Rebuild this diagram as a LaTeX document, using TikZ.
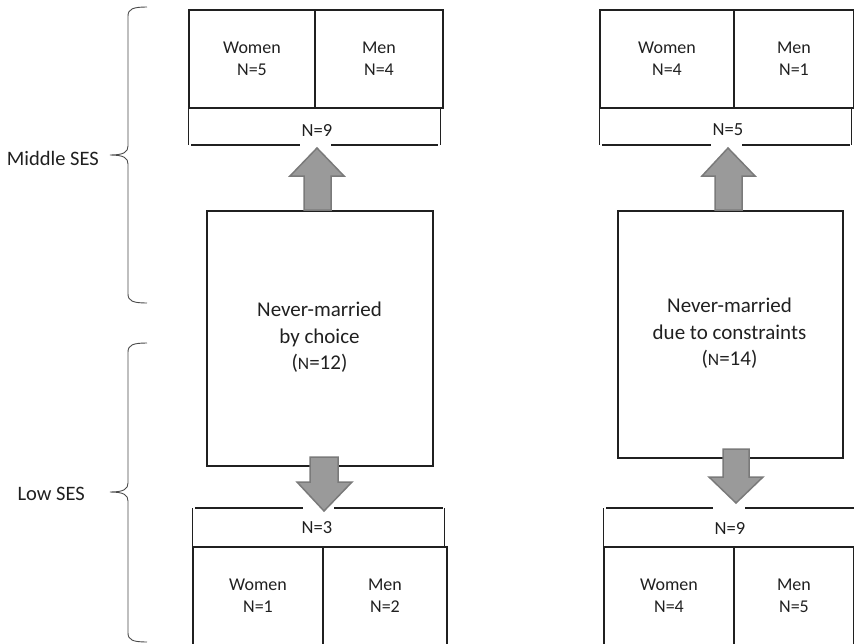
\documentclass[tikz,border=0pt]{standalone}
\usepackage{fontspec}
\setmainfont{Carlito}
\definecolor{ink}{HTML}{202020}
\definecolor{arrfill}{HTML}{9A9A9A}
\definecolor{arrline}{HTML}{7A7A7A}
\definecolor{bracec}{HTML}{4A4A4A}
\begin{document}
\begin{tikzpicture}[x=1pt,y=-1pt,
  cell/.style={draw=ink, line width=2pt, minimum height=98pt, inner sep=0pt,
    align=center, anchor=north west, text=ink, font=\fontsize{18}{21.7}\selectfont},
  mainbox/.style={draw=ink, line width=2pt, inner sep=0pt, anchor=north west,
    align=center, text=ink, font=\fontsize{21}{26.5}\selectfont},
  maintext/.style={text=ink, align=center, font=\fontsize{21}{26.5}\selectfont},
  total/.style={text=ink, font=\fontsize{18.5}{21}\selectfont, inner sep=0pt},
  sidelabel/.style={text=ink, font=\fontsize{20.5}{24}\selectfont, inner sep=0pt, anchor=east},
  thinline/.style={draw=ink, line width=0.9pt},
  barline/.style={draw=ink, line width=1.6pt},
  fatarrow/.style={fill=arrfill, draw=arrline, line width=1.5pt, line join=miter},
  bracel/.style={draw=bracec, line width=0.9pt}]
\useasboundingbox (0,0) rectangle (854,643);

% ---------- left column ----------
\node[cell, minimum width=126pt] (ltw) at (188,9) {Women\\N=5};
\node[cell, minimum width=128pt] (ltm) at (314,9) {Men\\N=4};
\node[total] (lt9) at (317,130) {N=9};
\draw[thinline] (188,107) -- (188,145) (440,107) -- (440,145);
\draw[barline] (191,145) -- (300,145) (331,145) -- (438,145);

\node[mainbox, minimum width=226pt, minimum height=255pt] (lmain) at (206,210) {};
\node[maintext] (lmaint) at (319.5,337.5)
  {Never-married\\by choice\\ ({\fontsize{17.5}{17.5}\selectfont N}=12)};

\node[total] (lb3) at (317,528) {N=3};
\draw[thinline] (192,508) -- (192,546) (444,508) -- (444,546);
\draw[barline] (195,508) -- (303,508) (334,508) -- (443,508);
\node[cell, minimum width=130pt] (lbw) at (192,546) {Women\\N=1};
\node[cell, minimum width=124pt] (lbm) at (322,546) {Men\\N=2};

\draw[fatarrow] (304,210) -- (304,176) -- (290,176) -- (317,148) -- (344,176) -- (331,176) -- (331,210) -- cycle;
\draw[fatarrow] (310,457) -- (338,457) -- (338,482) -- (352,482) -- (324,511) -- (297,482) -- (310,482) -- cycle;

% ---------- right column ----------
\node[cell, minimum width=134pt] (rtw) at (599,9) {Women\\N=4};
\node[cell, minimum width=120pt] (rtm) at (733,9) {Men\\N=1};
\node[total] (rt5) at (728,130) {N=5};
\draw[thinline] (599,107) -- (599,145) (851,107) -- (851,145);
\draw[barline] (602,145) -- (711,145) (742,145) -- (850,145);

\node[mainbox, minimum width=225pt, minimum height=247pt] (rmain) at (617,210) {};
\node[maintext] (rmaint) at (729.5,333.5)
  {Never-married\\due to constraints\\ ({\fontsize{17.5}{17.5}\selectfont N}=14)};

\node[total] (rb9) at (730,528) {N=9};
\draw[thinline] (603,508) -- (603,546);
\draw[barline] (606,508) -- (713,508) (745,508) -- (854,508);
\node[cell, minimum width=130pt] (rbw) at (603,546) {Women\\N=4};
\node[cell, minimum width=120pt] (rbm) at (733,546) {Men\\N=5};

\draw[fatarrow] (715,210) -- (715,176) -- (702,176) -- (728,148) -- (755,176) -- (742,176) -- (742,210) -- cycle;
\draw[fatarrow] (723,449) -- (749,449) -- (749,477) -- (763,477) -- (736,503) -- (709,477) -- (723,477) -- cycle;

% ---------- braces and labels ----------
\draw[bracel] (147,7) .. controls (133,7) and (128,9) .. (128,16) -- (128,146)
  .. controls (128,152) and (124,155) .. (110,155)
  .. controls (124,155) and (128,158) .. (128,164) -- (128,294)
  .. controls (128,301) and (133,303) .. (147,303);
\draw[bracel] (147,343) .. controls (133,343) and (128,345) .. (128,352) -- (128,483)
  .. controls (128,489) and (124,492) .. (110,492)
  .. controls (124,492) and (128,495) .. (128,501) -- (128,633)
  .. controls (128,640) and (133,642) .. (147,642);
\node[sidelabel] (mid) at (99,158) {Middle SES};
\node[sidelabel] (low) at (85,494) {Low SES};
\end{tikzpicture}
\end{document}
